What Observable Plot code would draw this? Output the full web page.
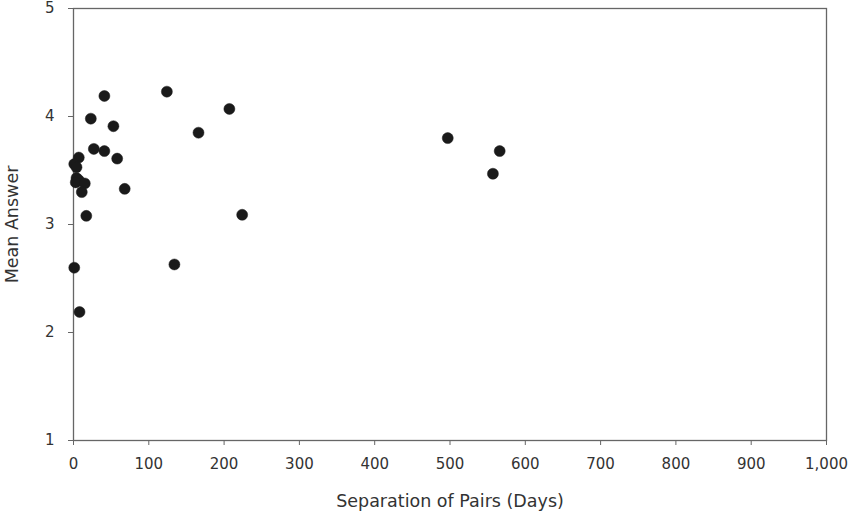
<!DOCTYPE html>
<html>
<head>
<meta charset="utf-8">
<script src="https://cdn.jsdelivr.net/npm/d3@7"></script>
<script src="https://cdn.jsdelivr.net/npm/@observablehq/plot@0.6"></script>
<style>
  html, body { margin: 0; padding: 0; background: #fff; }
  #chart svg { display: block; }
</style>
</head>
<body>
<div id="chart"></div>
<script>
const separationDays = [124, 41, 23, 53, 166, 207, 27, 41, 58, 7, 1, 4, 4, 7, 3, 15, 11, 68, 17, 1, 8, 134, 224, 497, 566, 557];
const meanAnswer = [4.23, 4.19, 3.98, 3.91, 3.85, 4.07, 3.70, 3.68, 3.61, 3.62, 3.56, 3.53, 3.43, 3.41, 3.39, 3.38, 3.30, 3.33, 3.08, 2.60, 2.19, 2.63, 3.09, 3.80, 3.68, 3.47];
const xTicks = [0, 100, 200, 300, 400, 500, 600, 700, 800, 900, 1000];
const yTicks = [1, 2, 3, 4, 5];

const data = separationDays.map((d, i) => ({x: d, y: meanAnswer[i]}));
const axisColor = "#666";

const chart = Plot.plot({
  width: 850,
  height: 512,
  marginLeft: 73,
  marginRight: 24,
  marginTop: 8,
  marginBottom: 72,
  style: {fontFamily: "'DejaVu Sans', Verdana, sans-serif", fontSize: "15px", color: "#333", background: "#fff"},
  x: {domain: [0, 1000]},
  y: {domain: [1, 5]},
  marks: [
    Plot.frame({stroke: axisColor, strokeWidth: 1.3}),
    Plot.axisX({ticks: xTicks, tickFormat: d3.format(","), tickSize: 5, tickPadding: 13, stroke: axisColor, fill: "#333", fontSize: 15, label: null}),
    Plot.axisY({ticks: yTicks, tickFormat: d3.format("d"), tickSize: 5, tickPadding: 14, stroke: axisColor, fill: "#333", fontSize: 15, label: null}),
    Plot.text(["Separation of Pairs (Days)"], {frameAnchor: "bottom", dy: 66, fontSize: 17.5, fill: "#333"}),
    Plot.text(["Mean Answer"], {frameAnchor: "left", dx: -61, rotate: -90, textAnchor: "middle", fontSize: 17.5, fill: "#333"}),
    Plot.dot(data, {x: "x", y: "y", r: 5.5, fill: "#1a1a1a", stroke: "#1a1a1a", strokeWidth: 0.5})
  ]
});
document.getElementById("chart").appendChild(chart);
</script>
</body>
</html>
